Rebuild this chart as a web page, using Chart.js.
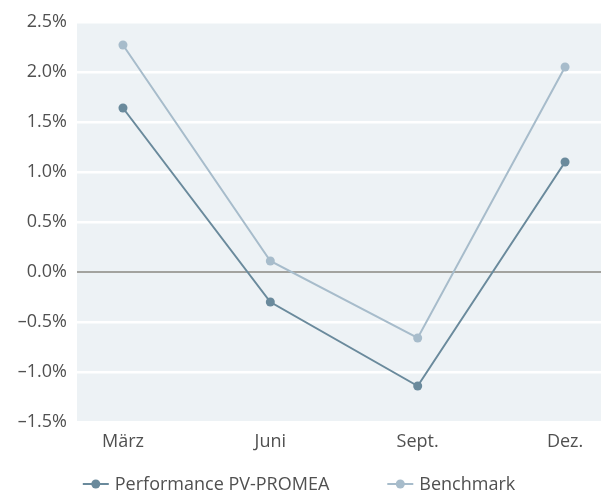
<!DOCTYPE html>
<html>
<head>
<meta charset="utf-8">
<script src="https://cdn.jsdelivr.net/npm/chart.js@4"></script>
<style>
html,body{margin:0;padding:0;background:#fff;}
#wrap{width:601px;height:493px;}
</style>
</head>
<body>
<div id="wrap"><canvas id="c" width="601" height="493"></canvas></div>
<script>
const categories = ['März', 'Juni', 'Sept.', 'Dez.'];
const performance = [1.64, -0.30, -1.14, 1.10];
const benchmark = [2.27, 0.11, -0.66, 2.05];
const seriesNames = ['Performance PV-PROMEA', 'Benchmark'];
const yTicks = [-1.5, -1.0, -0.5, 0, 0.5, 1.0, 1.5, 2.0, 2.5];

const COL_PERF = '#6a8a9c';
const COL_BENCH = '#a7bccb';
const FONT = "'Open Sans', 'Noto Sans', sans-serif";
const FSIZE = 18;
const TEXT = '#505050';

const bgPlugin = {
  id: 'bg',
  beforeDraw(chart){
    const a = chart.chartArea, ctx = chart.ctx;
    ctx.save();
    ctx.fillStyle = '#edf2f5';
    ctx.fillRect(a.left, a.top, a.right - a.left, a.bottom - a.top);
    ctx.restore();
  }
};

const legendPlugin = {
  id: 'customLegend',
  afterDraw(chart){
    const ctx = chart.ctx;
    ctx.save();
    ctx.font = FSIZE + 'px ' + FONT;
    const ds = chart.data.datasets;
    const iconW = 26, textGap = 6, itemGap = 58;
    const widths = ds.map(d => iconW + textGap + ctx.measureText(d.label).width);
    const total = widths.reduce((a,b)=>a+b,0) + itemGap*(ds.length-1);
    let x = 299 - total/2;
    const y = 484;
    ds.forEach((d,i)=>{
      ctx.strokeStyle = d.borderColor; ctx.lineWidth = 2;
      ctx.beginPath(); ctx.moveTo(x, y); ctx.lineTo(x+iconW, y); ctx.stroke();
      ctx.fillStyle = d.borderColor;
      ctx.beginPath(); ctx.arc(x+iconW/2, y, 4.5, 0, Math.PI*2); ctx.fill();
      ctx.fillStyle = TEXT; ctx.textBaseline = 'middle'; ctx.textAlign = 'left';
      ctx.fillText(d.label, x+iconW+textGap, y+1);
      x += widths[i] + itemGap;
    });
    ctx.restore();
  }
};

const fmt = v => {
  const s = Math.abs(v).toFixed(1) + '%';
  return v < 0 ? '\u2013' + s : s;
};

new Chart(document.getElementById('c'), {
  type: 'line',
  data: {
    datasets: [
      {
        label: seriesNames[0],
        data: performance.map((v,i)=>({x:i,y:v})),
        borderColor: COL_PERF, backgroundColor: COL_PERF,
        borderWidth: 2, pointRadius: 4.5, pointHoverRadius: 4.5,
        pointBackgroundColor: COL_PERF, pointBorderWidth: 0, tension: 0, clip: false
      },
      {
        label: seriesNames[1],
        data: benchmark.map((v,i)=>({x:i,y:v})),
        borderColor: COL_BENCH, backgroundColor: COL_BENCH,
        borderWidth: 2, pointRadius: 4.5, pointHoverRadius: 4.5,
        pointBackgroundColor: COL_BENCH, pointBorderWidth: 0, tension: 0, clip: false
      }
    ]
  },
  options: {
    responsive: false,
    animation: false,
    events: [],
    layout: { autoPadding: false, padding: { top: 22, right: 0, bottom: 31, left: 0 } },
    scales: {
      x: {
        type: 'linear',
        min: -0.312, max: 3.244,
        afterBuildTicks: s => { s.ticks = categories.map((c,i)=>({value:i})); },
        afterFit: s => { s.height = 40; s.paddingRight = 0; s.paddingLeft = 0; },
        ticks: {
          callback: v => categories[v] ?? '',
          color: TEXT, font: { family: FONT, size: FSIZE }, padding: 9,
          autoSkip: false, maxRotation: 0
        },
        grid: { display: false, drawTicks: false },
        border: { display: false }
      },
      y: {
        min: -1.5, max: 2.5,
        afterBuildTicks: s => { s.ticks = yTicks.map(v=>({value:v})); },
        afterFit: s => { s.width = 77; s.paddingTop = 0; s.paddingBottom = 0; },
        ticks: {
          callback: v => fmt(v),
          color: TEXT, font: { family: FONT, size: FSIZE }, padding: 10
        },
        grid: {
          drawTicks: false,
          color: ctx => (ctx.tick && ctx.tick.value === 0) ? '#a3a39f' : '#ffffff',
          lineWidth: ctx => (ctx.tick && ctx.tick.value === 0) ? 2 : 2.5
        },
        border: { display: false }
      }
    },
    plugins: {
      tooltip: { enabled: false },
      legend: { display: false }
    }
  },
  plugins: [bgPlugin, legendPlugin]
});
</script>
</body>
</html>
